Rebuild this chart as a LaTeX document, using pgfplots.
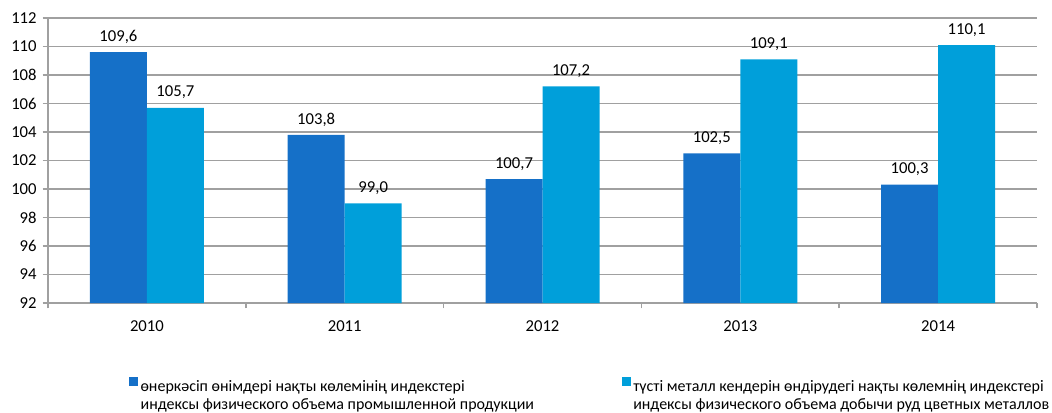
\documentclass[border=0pt]{standalone}
\usepackage{pgfplots}
\pgfplotsset{compat=1.18}
\usepackage{fontspec}
\setmainfont{Carlito}
\definecolor{cdark}{HTML}{1570C8}
\definecolor{clight}{HTML}{009FDA}
\definecolor{cgrid}{HTML}{A0A0A0}
\begin{document}
\begin{tikzpicture}[x=0.75pt,y=0.75pt]
\begin{axis}[
  at={(0,0)}, anchor=south west,
  scale only axis, width=741.75pt, height=213.75pt,
  ybar, bar width=42.75pt, 
  xmin=-0.5, xmax=4.5, ymin=92, ymax=112,
  ytick={92,94,...,112},
  xtick={0,1,2,3,4}, xticklabels={2010,2011,2012,2013,2014},
  minor xtick={-0.5,0.5,1.5,2.5,3.5,4.5},
  major x tick style={draw=none},
  minor tick length=4pt, major tick length=4pt,
  tick align=outside,
  axis x line*=bottom, axis y line*=left,
  axis line style={cgrid, line width=1.2pt, -},
  tick style={cgrid, line width=1.2pt},
  ymajorgrids, grid style={cgrid, line width=1.2pt},
  tick label style={font=\fontsize{12.5}{14}\selectfont},
  xticklabel style={yshift=-6pt},
  yticklabel style={xshift=-1pt},
  /pgf/number format/assume math mode=true,
  yticklabel={\pgfmathprintnumber[assume math mode=true]{\tick}},
  nodes near coords={\pgfmathprintnumber[fixed,fixed zerofill,precision=1,use comma,assume math mode=true]{\pgfplotspointmeta}},
  nodes near coords style={font=\fontsize{12.5}{14}\selectfont, yshift=3pt},
  clip=false,
  legend columns=2,
  legend style={draw=none, at={(57.75pt,-52.5pt)}, anchor=north west, font=\fontsize{12}{15}\selectfont,
     /tikz/every even column/.append style={column sep=0pt}},
  legend cell align=left,
  legend image code/.code={\fill[#1] (0pt,0pt) rectangle (6.5pt,6.5pt);},
]
\addplot[fill=cdark, draw=none, bar shift=-21.375pt] coordinates {(0,109.6) (1,103.8) (2,100.7) (3,102.5) (4,100.3)};
\addlegendentry{\makebox[359pt][l]{\renewcommand\arraystretch{0.9}\begin{tabular}[t]{@{}l@{}}өнеркәсіп өнімдері нақты көлемінің индекстері\\индексы физического объема промышленной продукции\end{tabular}}}
\addplot[fill=clight, draw=none, bar shift=21.375pt] coordinates {(0,105.7) (1,99.0) (2,107.2) (3,109.1) (4,110.1)};
\addlegendentry{\renewcommand\arraystretch{0.9}\begin{tabular}[t]{@{}l@{}}түсті металл кендерін өндірудегі нақты көлемнің индекстері\\индексы физического объема добычи руд цветных металлов\end{tabular}}
\end{axis}
\pgfresetboundingbox
\path[use as bounding box] (-48,-109) rectangle (1004,303);
\end{tikzpicture}
\end{document}
